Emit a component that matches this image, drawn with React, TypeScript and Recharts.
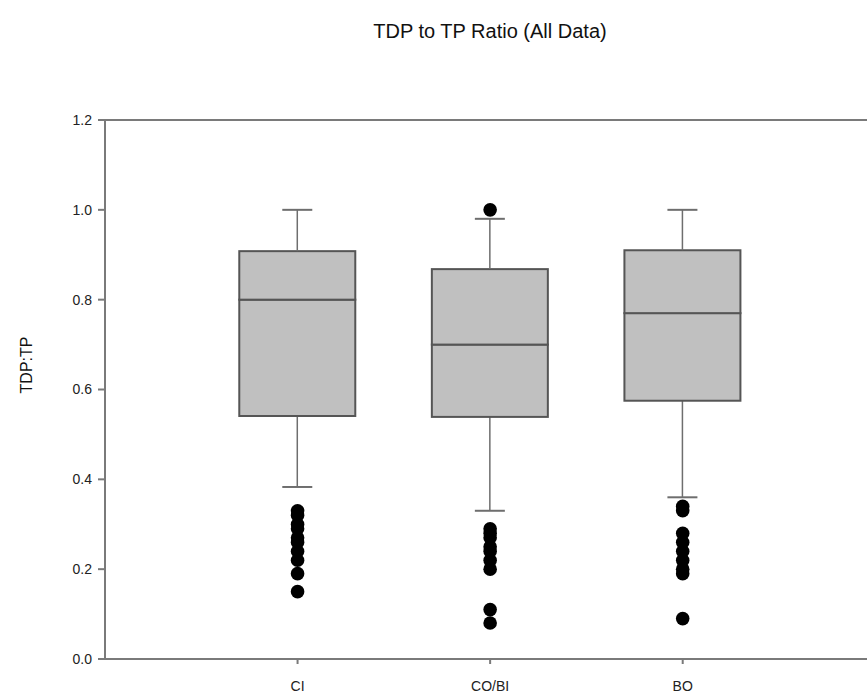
import { ComposedChart, Bar, Scatter, XAxis, YAxis, ReferenceLine } from "recharts";

const CATEGORIES = ["CI", "CO/BI", "BO"];
const POSITIONS = [1, 2, 3];
const WHISKER_LOW = [0.383, 0.33, 0.36];
const Q1 = [0.541, 0.539, 0.575];
const MEDIAN = [0.8, 0.7, 0.77];
const Q3 = [0.908, 0.868, 0.91];
const WHISKER_HIGH = [1.0, 0.98, 1.0];

const OUTLIERS_CI = [0.33, 0.32, 0.3, 0.29, 0.27, 0.26, 0.24, 0.22, 0.19, 0.15];
const OUTLIERS_COBI = [1.0, 0.29, 0.28, 0.27, 0.25, 0.24, 0.22, 0.2, 0.11, 0.08];
const OUTLIERS_BO = [0.34, 0.33, 0.28, 0.26, 0.24, 0.22, 0.2, 0.19, 0.09];

const Y_TICKS = [0, 0.2, 0.4, 0.6, 0.8, 1.0, 1.2];

const FONT = "'Liberation Sans', Arial, sans-serif";
const AXIS_COLOR = "#7a7a7a";
const BOX_FILL = "#c0c0c0";
const BOX_STROKE = "#555555";
const WHISKER_COLOR = "#6e6e6e";
const CAP_WIDTH = 30;

// the original frame runs past the right edge of the picture
const X_MAX = 4.44;

// stacked segments: invisible base, lower whisker, lower box, upper box, upper whisker
const boxRows = POSITIONS.map((pos, i) => ({
  pos,
  base: WHISKER_LOW[i],
  lowWhisker: Q1[i] - WHISKER_LOW[i],
  lowBox: MEDIAN[i] - Q1[i],
  highBox: Q3[i] - MEDIAN[i],
  highWhisker: WHISKER_HIGH[i] - Q3[i],
}));

const outlierPoints = [
  ...OUTLIERS_CI.map((v) => ({ pos: 1, v })),
  ...OUTLIERS_COBI.map((v) => ({ pos: 2, v })),
  ...OUTLIERS_BO.map((v) => ({ pos: 3, v })),
];

type ShapeProps = { x?: number; y?: number; width?: number; height?: number; cx?: number; cy?: number };

function LowWhisker({ x = 0, y = 0, width = 0, height = 0 }: ShapeProps) {
  const cx = x + width / 2;
  const bottom = y + height;
  return (
    <g>
      <line x1={cx} x2={cx} y1={y} y2={bottom} stroke={WHISKER_COLOR} strokeWidth={1.5} />
      <line x1={cx - CAP_WIDTH / 2} x2={cx + CAP_WIDTH / 2} y1={bottom} y2={bottom} stroke={WHISKER_COLOR} strokeWidth={2} />
    </g>
  );
}

function HighWhisker({ x = 0, y = 0, width = 0, height = 0 }: ShapeProps) {
  const cx = x + width / 2;
  return (
    <g>
      <line x1={cx} x2={cx} y1={y} y2={y + height} stroke={WHISKER_COLOR} strokeWidth={1.5} />
      <line x1={cx - CAP_WIDTH / 2} x2={cx + CAP_WIDTH / 2} y1={y} y2={y} stroke={WHISKER_COLOR} strokeWidth={2} />
    </g>
  );
}

function BoxPart({ x = 0, y = 0, width = 0, height = 0 }: ShapeProps) {
  return <rect x={x} y={y} width={width} height={height} fill={BOX_FILL} stroke={BOX_STROKE} strokeWidth={2} />;
}

function Dot({ cx = 0, cy = 0 }: ShapeProps) {
  return <circle cx={cx} cy={cy} r={6.8} fill="#000" />;
}

export default function App() {
  return (
    <div style={{ position: "absolute", left: 0, top: 0, width: 867, height: 698, overflow: "hidden", background: "#fff", fontFamily: FONT }}>
      <div style={{ position: "absolute", left: 490, top: 20, transform: "translateX(-50%)", fontSize: 20, color: "#111", whiteSpace: "nowrap" }}>
        TDP to TP Ratio (All Data)
      </div>
      <div style={{ position: "absolute", left: 27, top: 365, transform: "translate(-50%, -50%) rotate(-90deg)", fontSize: 16, color: "#111", whiteSpace: "nowrap" }}>
        TDP:TP
      </div>
      <ComposedChart
        width={965}
        height={698}
        data={boxRows}
        margin={{ top: 120, right: 5, bottom: 9, left: 45 }}
      >
        <XAxis
          dataKey="pos"
          type="number"
          domain={[0, X_MAX]}
          ticks={POSITIONS}
          tickFormatter={(v: number) => CATEGORIES[v - 1] ?? ""}
          height={30}
          stroke={AXIS_COLOR}
          strokeWidth={2}
          tickSize={5}
          tickMargin={17}
          tick={{ fill: "#222", fontSize: 14, fontFamily: FONT }}
          allowDataOverflow
        />
        <YAxis
          type="number"
          domain={[0, 1.2]}
          ticks={Y_TICKS}
          tickFormatter={(v: number) => v.toFixed(1)}
          width={60}
          stroke={AXIS_COLOR}
          strokeWidth={2}
          tickSize={7}
          tickMargin={6}
          tick={{ fill: "#222", fontSize: 14, fontFamily: FONT }}
          allowDataOverflow
        />
        <ReferenceLine y={1.2} stroke={AXIS_COLOR} strokeWidth={2} />
        <Bar dataKey="base" stackId="box" barSize={116} fill="none" isAnimationActive={false} />
        <Bar dataKey="lowWhisker" stackId="box" barSize={116} shape={<LowWhisker />} isAnimationActive={false} />
        <Bar dataKey="lowBox" stackId="box" barSize={116} shape={<BoxPart />} isAnimationActive={false} />
        <Bar dataKey="highBox" stackId="box" barSize={116} shape={<BoxPart />} isAnimationActive={false} />
        <Bar dataKey="highWhisker" stackId="box" barSize={116} shape={<HighWhisker />} isAnimationActive={false} />
        <Scatter data={outlierPoints} dataKey="v" shape={<Dot />} isAnimationActive={false} />
      </ComposedChart>
    </div>
  );
}
